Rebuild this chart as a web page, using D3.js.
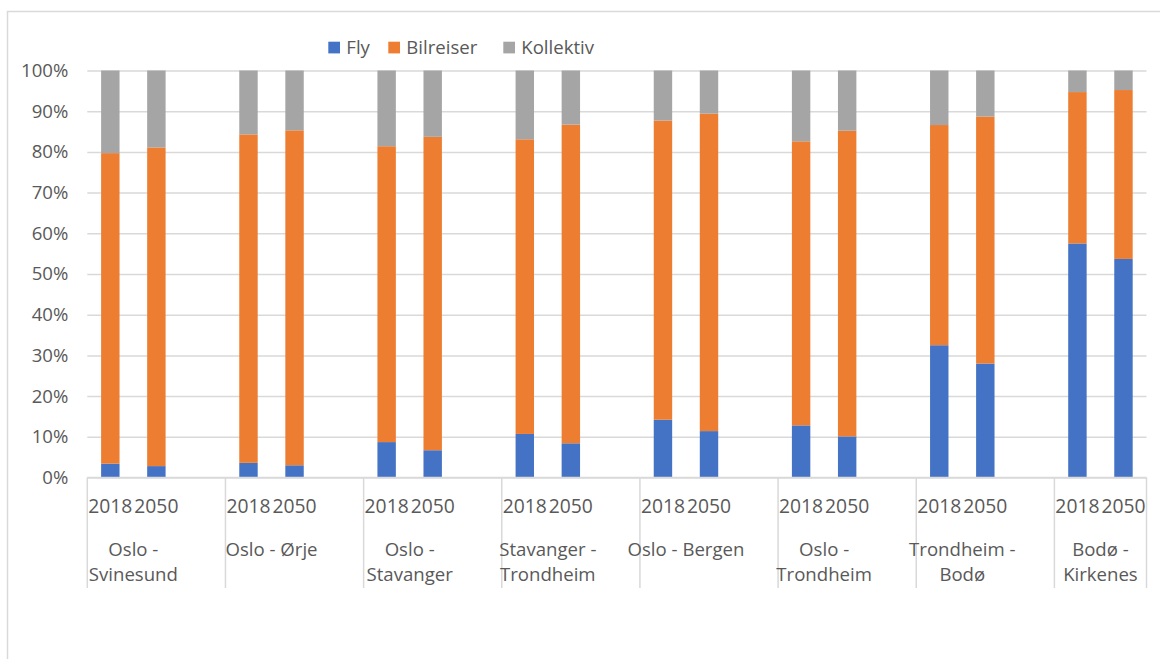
<!DOCTYPE html>
<html>
<head>
<meta charset="utf-8">
<script src="https://cdn.jsdelivr.net/npm/d3@7"></script>
<style>
  html, body { margin: 0; padding: 0; background: #fff; }
  svg { display: block; }
  text { font-family: "Open Sans", "Noto Sans", sans-serif; fill: #595959; }
</style>
</head>
<body>
<svg id="chart" width="1160" height="659"></svg>
<script>
// Travel mode shares per route, 2018 and 2050 (percent)
const routeLabels = [
  ["Oslo -", "Svinesund"],
  ["Oslo - Ørje"],
  ["Oslo -", "Stavanger"],
  ["Stavanger -", "Trondheim"],
  ["Oslo - Bergen"],
  ["Oslo -", "Trondheim"],
  ["Trondheim -", "Bodø"],
  ["Bodø -", "Kirkenes"]
];
const years = ["2018", "2050"];
const seriesNames = ["Fly", "Bilreiser", "Kollektiv"];
const seriesColors = ["#4472C4", "#ED7D31", "#A5A5A5"];

const fly2018 = [3.4, 3.6, 8.7, 10.7, 14.2, 12.8, 32.5, 57.5];
const fly2050 = [2.8, 3.0, 6.7, 8.4, 11.4, 10.1, 28.0, 53.7];
const bil2018 = [76.3, 80.7, 72.7, 72.4, 73.5, 69.8, 54.1, 37.2];
const bil2050 = [78.3, 82.3, 77.0, 78.3, 78.0, 75.1, 60.7, 41.5];
const kol2018 = [20.3, 15.7, 18.6, 16.9, 12.3, 17.4, 13.4, 5.3];
const kol2050 = [18.9, 14.7, 16.3, 13.3, 10.6, 14.8, 11.3, 4.8];

const yTicks = [0, 0.1, 0.2, 0.3, 0.4, 0.5, 0.6, 0.7, 0.8, 0.9, 1.0];

// Build rows: one per route/year, with an empty spacer slot between routes
const rows = [];
const slots = [];
routeLabels.forEach((lab, i) => {
  const vals = {
    "2018": [fly2018[i], bil2018[i], kol2018[i]],
    "2050": [fly2050[i], bil2050[i], kol2050[i]]
  };
  years.forEach(yr => {
    const key = i + "|" + yr;
    slots.push(key);
    rows.push({ key, route: i, year: yr, Fly: vals[yr][0], Bilreiser: vals[yr][1], Kollektiv: vals[yr][2] });
  });
  if (i < routeLabels.length - 1) slots.push(i + "|gap");
});

const svg = d3.select("#chart");
const plotLeft = 87.3, plotRight = 1146.5, plotTop = 70.5, plotBottom = 477.5;
const gridColor = "#d9d9d9";
const fontSize = 18.6;

// Outer chart frame
svg.append("rect")
  .attr("x", 7.5).attr("y", 11.5)
  .attr("width", 1170).attr("height", 700)
  .attr("fill", "#fff").attr("stroke", gridColor).attr("stroke-width", 1.5);

const x = d3.scaleBand().domain(slots).range([plotLeft, plotRight])
  .paddingInner(0.6).paddingOuter(0.3);
const y = d3.scaleLinear().domain([0, 1]).range([plotBottom, plotTop]);

// Gridlines
svg.append("g")
  .attr("transform", `translate(${plotLeft},0)`)
  .call(d3.axisLeft(y).tickValues(yTicks).tickSize(-(plotRight - plotLeft)).tickFormat(""))
  .call(g => g.select(".domain").remove())
  .call(g => g.selectAll("line").attr("stroke", gridColor).attr("stroke-width", 1.5));

// Y tick labels
svg.append("g")
  .attr("transform", `translate(${plotLeft},0)`)
  .call(d3.axisLeft(y).tickValues(yTicks).tickSize(0).tickPadding(19).tickFormat(d3.format(".0%")))
  .call(g => g.select(".domain").remove())
  .call(g => g.selectAll("text").attr("font-size", fontSize).attr("fill", "#595959")
    .style("font-family", '"Open Sans", sans-serif'));

// Stacked 100% bars
const stack = d3.stack().keys(seriesNames).offset(d3.stackOffsetExpand);
const layers = stack(rows);
svg.append("g").selectAll("g")
  .data(layers).join("g")
  .attr("fill", (d, i) => seriesColors[i])
  .selectAll("rect")
  .data(d => d).join("rect")
  .attr("x", d => x(d.data.key))
  .attr("width", x.bandwidth())
  .attr("y", d => y(d[1]))
  .attr("height", d => y(d[0]) - y(d[1]));

// Category axis: baseline, separators, year and route labels
const step = x.step();
const groupStarts = routeLabels.map((_, i) => plotLeft + i * 3 * step);
const sepX = groupStarts.concat([plotRight]);
svg.append("g").selectAll("line")
  .data(sepX).join("line")
  .attr("x1", d => d).attr("x2", d => d)
  .attr("y1", plotBottom).attr("y2", 588)
  .attr("stroke", gridColor).attr("stroke-width", 1.5);
svg.append("line")
  .attr("x1", plotLeft).attr("x2", plotRight).attr("y1", plotBottom).attr("y2", plotBottom)
  .attr("stroke", gridColor).attr("stroke-width", 1.5);

svg.append("g").selectAll("text")
  .data(rows).join("text")
  .attr("x", d => x(d.key) + x.bandwidth() / 2)
  .attr("y", 513)
  .attr("text-anchor", "middle")
  .attr("font-size", 19.3)
  .text(d => d.year);

const routeG = svg.append("g");
routeLabels.forEach((lines, i) => {
  const cx = (x(i + "|2018") + x(i + "|2050") + x.bandwidth()) / 2;
  lines.forEach((ln, j) => {
    routeG.append("text")
      .attr("x", cx).attr("y", 556 + j * 25)
      .attr("text-anchor", "middle")
      .attr("font-size", fontSize)
      .text(ln);
  });
});

// Legend
const legendX = [328.3, 388.3, 503.3];
const legend = svg.append("g");
seriesNames.forEach((name, i) => {
  legend.append("rect")
    .attr("x", legendX[i]).attr("y", 41.7)
    .attr("width", 11.7).attr("height", 11.7)
    .attr("fill", seriesColors[i]);
  legend.append("text")
    .attr("x", legendX[i] + 18).attr("y", 54)
    .attr("font-size", fontSize)
    .text(name);
});
</script>
</body>
</html>
